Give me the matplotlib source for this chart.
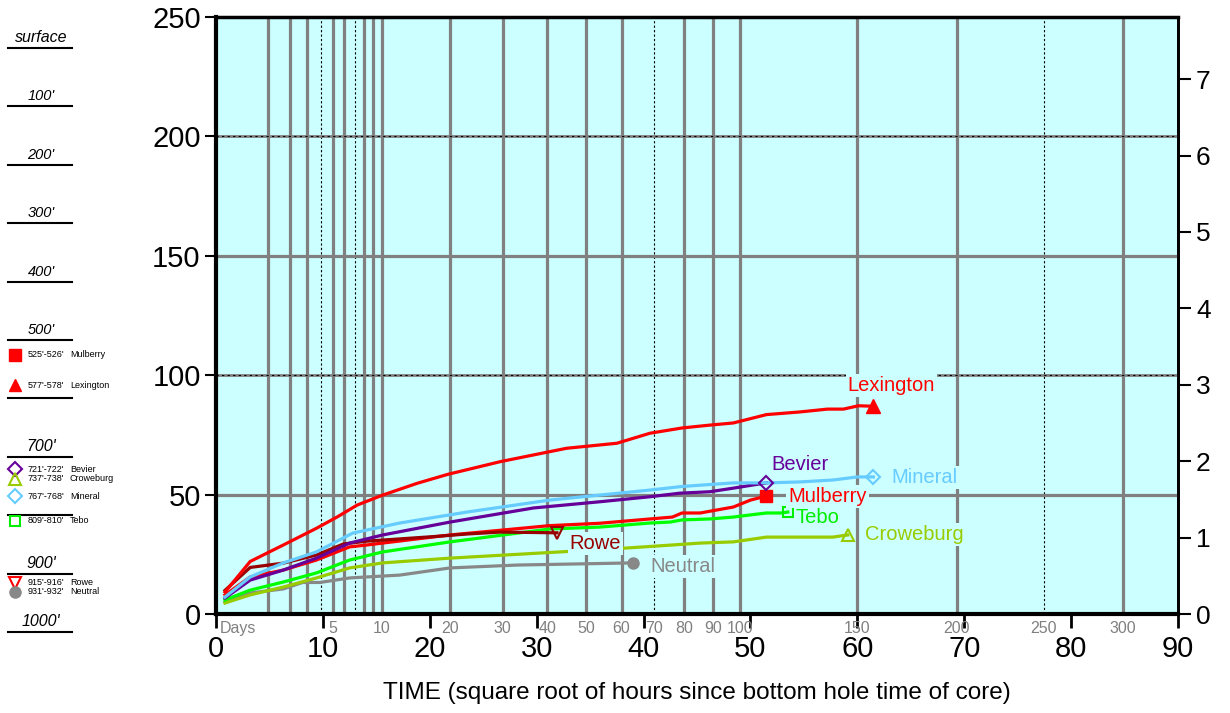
import numpy as np
import matplotlib
matplotlib.use("Agg")
from matplotlib import pyplot as plt

plt.rcParams['font.family'] = ['Liberation Sans', 'DejaVu Sans']

# x = square root of hours, y = left axis units
lex_x = [0.84, 3.2, 6.3, 9.4, 11.4, 13.2, 15.6, 18.8, 21.7, 26.6, 30.8, 32.8, 37.5, 40.6, 43.6, 46.2, 48.4, 51.5,
         54.6, 57.2, 58.7, 60.1, 61.5]
lex_y = [9.2, 22.0, 28.9, 35.9, 40.8, 45.6, 49.8, 54.7, 58.5, 63.8, 67.6, 69.4, 71.5, 75.7, 77.9, 79.1, 80.0, 83.5,
         84.6, 85.8, 85.8, 87.2, 87.0]

mul_x = [0.84, 3.2, 6.3, 9.4, 12.5, 14.1, 21.9, 31.2, 35.9, 40.6, 42.7, 43.6, 45.3, 48.4, 50.0, 51.5]
mul_y = [8.0, 15.5, 18.4, 22.6, 28.1, 28.9, 33.1, 37.0, 38.0, 39.8, 40.6, 42.3, 42.3, 44.8, 47.7, 49.4]

rowe_x = [0.84, 3.2, 6.3, 9.4, 11.9, 14.1, 20.3, 23.5, 26.6, 31.9]
rowe_y = [9.9, 19.5, 21.3, 24.7, 29.3, 30.5, 32.4, 33.5, 34.3, 34.0]

bev_x = [0.84, 3.2, 6.3, 9.4, 12.5, 15.6, 21.9, 29.7, 35.9, 40.6, 43.4, 46.2, 48.4, 50.2, 51.5]
bev_y = [6.7, 14.2, 18.4, 23.4, 29.7, 33.1, 38.5, 44.4, 47.0, 49.1, 50.6, 51.2, 52.7, 54.0, 54.9]

min_x = [0.84, 3.2, 6.3, 9.4, 12.8, 17.2, 23.5, 31.2, 35.9, 40.6, 43.6, 48.4, 51.5, 54.6, 57.7, 60.0, 61.5]
min_y = [7.1, 15.5, 21.4, 26.0, 33.9, 38.1, 42.7, 47.7, 49.8, 51.9, 53.4, 54.9, 54.9, 55.3, 56.1, 57.4, 57.4]

tebo_x = [0.84, 3.2, 6.3, 9.4, 12.5, 15.6, 21.9, 31.2, 35.9, 40.6, 42.5, 43.6, 46.2, 48.4, 50.0, 51.5, 52.9, 53.5]
tebo_y = [5.9, 10.0, 13.4, 17.2, 22.6, 26.0, 30.2, 35.6, 36.4, 38.1, 38.5, 39.4, 39.8, 40.6, 41.5, 42.3, 42.3, 42.7]

crow_x = [0.84, 3.2, 6.3, 9.4, 12.5, 15.6, 21.9, 32.2, 38.3, 42.7, 45.3, 48.4, 51.5, 57.7, 59.1]
crow_y = [4.6, 8.0, 11.3, 15.1, 19.3, 21.4, 23.4, 26.0, 27.6, 28.9, 29.7, 30.2, 32.2, 32.2, 33.1]

neu_x = [0.84, 3.2, 6.3, 8.1, 9.7, 12.5, 17.2, 21.9, 28.2, 39.0]
neu_y = [5.0, 8.8, 10.5, 13.2, 13.2, 15.1, 16.3, 19.3, 20.5, 21.4]

# label anchor points (data coords)
lex_lab = (63.2, 95.5)
bev_lab = (54.6, 62.4)
min_lab = (66.3, 57.0)
mul_lab = (57.2, 49.4)
tebo_lab = (56.3, 40.6)
crow_lab = (65.3, 33.1)
rowe_lab = (35.5, 29.7)
neu_lab = (43.7, 19.7)

grid_days = [1, 2, 3, 5, 6, 8, 9, 10, 20, 30, 40, 50, 60, 80, 90, 100, 150, 200, 300]
dash_days = [4, 7, 70, 250]
label_days = [5, 10, 20, 30, 40, 50, 60, 70, 80, 90, 100, 150, 200, 250, 300]

depth_marks = [0, 100, 200, 300, 400, 500, 600, 700, 800, 900, 1000]
depth_text = {0: "surface", 100: "100'", 200: "200'", 300: "300'", 400: "400'", 500: "500'",
              700: "700'", 900: "900'", 1000: "1000'"}

# (depth, range text, name, marker, color, filled)
samples = [
    (525.5, "525'-526'", "Mulberry", 's', '#ff0000', True),
    (577.5, "577'-578'", "Lexington", '^', '#ff0000', True),
    (721.5, "721'-722'", "Bevier", 'D', '#660099', False),
    (737.5, "737'-738'", "Croweburg", '^', '#99cc00', False),
    (767.5, "767'-768'", "Mineral", 'D', '#66ccff', False),
    (809.5, "809'-810'", "Tebo", 's', '#00ee00', False),
    (915.5, "915'-916'", "Rowe", 'v', '#ff0000', False),
    (931.5, "931'-932'", "Neutral", 'o', '#888888', True),
]

W, H = 1230, 713
fig = plt.figure(figsize=(W / 100, H / 100), dpi=100)
ax = fig.add_axes([216 / W, 1 - 614 / H, (1178 - 216) / W, (614 - 17) / H])
ax.set_facecolor('#ccffff')
ax.set_xlim(0, 90)
ax.set_ylim(0, 250)

gray = '#808080'
for d in grid_days:
    ax.axvline(np.sqrt(24 * d), color=gray, lw=2.3, zorder=1)
for d in dash_days:
    ax.axvline(np.sqrt(24 * d), color='black', lw=0.8, ls=(0, (2, 2)), zorder=1)
for v in [50, 150]:
    ax.axhline(v, color=gray, lw=2.3, zorder=1)
for v in [100, 200]:
    ax.axhline(v, color=gray, lw=2.0, zorder=1)
    ax.axhline(v, color='black', lw=0.8, ls=(0, (2, 3)), zorder=1)

lw = 2.3
ax.plot(neu_x, neu_y, color='#888888', lw=lw, zorder=3)
ax.plot(neu_x[-1], neu_y[-1], 'o', color='#888888', ms=8, zorder=4)
ax.plot(crow_x, crow_y, color='#99cc00', lw=lw, zorder=3)
ax.plot(crow_x[-1], crow_y[-1], '^', mfc='none', mec='#99cc00', mew=1.5, ms=9, zorder=4)
ax.plot(tebo_x, tebo_y, color='#00ff00', lw=lw, zorder=3)
ax.plot(tebo_x[-1], tebo_y[-1], 's', mfc='none', mec='#00ee00', mew=1.5, ms=7, zorder=4)
ax.plot(mul_x, mul_y, color='#ff0000', lw=lw, zorder=3)
ax.plot(mul_x[-1], mul_y[-1], 's', color='#ff0000', ms=9, zorder=4)
ax.plot(rowe_x, rowe_y, color='#990000', lw=lw, zorder=3)
ax.plot(rowe_x[-1], rowe_y[-1], 'v', mfc='none', mec='#990000', mew=1.5, ms=8, zorder=4)
ax.plot(bev_x, bev_y, color='#660099', lw=lw, zorder=3)
ax.plot(bev_x[-1], bev_y[-1], 'D', mfc='none', mec='#660099', mew=1.5, ms=7, zorder=4)
ax.plot(min_x, min_y, color='#66ccff', lw=lw, zorder=3)
ax.plot(min_x[-1], min_y[-1], 'D', mfc='none', mec='#66ccff', mew=1.5, ms=7, zorder=4)
ax.plot(lex_x, lex_y, color='#ff0000', lw=lw, zorder=3)
ax.plot(lex_x[-1], lex_y[-1], '^', color='#ff0000', ms=10, zorder=4)

box = dict(facecolor='#ccffff', edgecolor='none', pad=1.5)
for (x, y), txt, c in [(lex_lab, "Lexington", '#ff0000'), (bev_lab, "Bevier", '#660099'),
                       (min_lab, "Mineral", '#66ccff'), (mul_lab, "Mulberry", '#ff0000'),
                       (tebo_lab, "Tebo", '#00ee00'), (crow_lab, "Croweburg", '#99cc00'),
                       (rowe_lab, "Rowe", '#990000'), (neu_lab, "Neutral", '#888888')]:
    ax.text(x, y, txt, color=c, fontsize=14.5, ha='center', va='center', bbox=box, zorder=5)

# day labels under the axis
tr = ax.get_xaxis_transform()
ax.text(0.35, -0.011, "Days", transform=tr, ha='left', va='top', color=gray, fontsize=11.5)
for d in label_days:
    ax.text(np.sqrt(24 * d), -0.011, str(d), transform=tr, ha='center', va='top', color=gray, fontsize=11.5)

ax.set_xticks(np.arange(0, 91, 10))
ax.set_yticks(np.arange(0, 251, 50))
ax.tick_params(axis='x', direction='out', length=10, width=2, labelsize=21, pad=5)
ax.tick_params(axis='y', direction='out', length=8, width=1.5, labelsize=21, pad=3)
ax.spines['left'].set_linewidth(3)
ax.spines['bottom'].set_linewidth(3)
ax.spines['top'].set_linewidth(2.5)
ax.spines['right'].set_linewidth(2)
ax.set_xlabel("TIME (square root of hours since bottom hole time of core)", fontsize=17.5, labelpad=14)

rax = ax.secondary_yaxis('right', functions=(lambda v: v / 32.0, lambda v: v * 32.0))
rax.set_yticks(np.arange(0, 8, 1))
rax.tick_params(direction='out', length=9, width=1.5, labelsize=19, pad=4)
rax.spines['right'].set_linewidth(2)

# depth scale on the left
lax = fig.add_axes([0, 0, 140 / W, 1])
lax.axis('off')
lax.set_xlim(0, 140)
lax.set_ylim(1138.7, -82.2)
for dep in depth_marks:
    lax.plot([8, 72], [dep, dep], color='black', lw=1.5)
    if dep in depth_text:
        big = dep in (0, 700, 900, 1000)
        lax.text(41, dep - 5, depth_text[dep], ha='center', va='bottom', style='italic',
                 fontsize=11.5 if big else 10.5)
for dep, rng, name, mk, c, filled in samples:
    if filled:
        lax.plot(15, dep, mk, color=c, ms=8)
    else:
        lax.plot(15, dep, mk, mfc='none', mec=c, mew=1.5, ms=7 if mk in 'Ds' else 8)
    lax.text(28, dep, rng, fontsize=6.5, va='center', ha='left')
    lax.text(70, dep, name, fontsize=6.5, va='center', ha='left')

fig.savefig("out.png", dpi=100)
